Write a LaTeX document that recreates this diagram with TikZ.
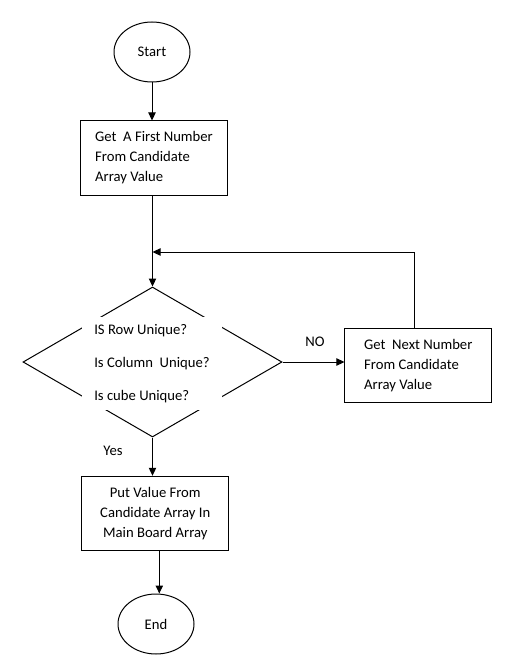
\documentclass[tikz,border=0pt]{standalone}
\usepackage{fontspec}
\setmainfont{Carlito}
\usetikzlibrary{shapes.geometric,arrows.meta,calc}
\begin{document}
\begin{tikzpicture}[x=0.75pt,y=-0.75pt,
  line width=0.75pt,
  every node/.style={font=\fontsize{11pt}{15pt}\selectfont},
  term/.style={draw, ellipse, minimum width=57pt, minimum height=45pt, inner sep=0pt},
  procbox/.style={draw, rectangle, minimum width=110pt, minimum height=55.5pt, inner sep=2pt},
  flow/.style={-{Triangle[length=6pt,width=5.5pt]}},
  lbl/.style={inner sep=1pt},
]
\fill[white] (0,0) rectangle (513,656);
\useasboundingbox (0,0) rectangle (513,656);
\node[term] (start) at (152,52) {Start};
\node[procbox, align=left] (box1) at (154,158) {Get\ \ A First Number\\From Candidate\\Array Value};
\node[draw, diamond, minimum width=194.25pt, minimum height=112.5pt, inner sep=0pt] (dec) at (152.5,362) {};
\node[fill=white, minimum width=105pt, minimum height=69.75pt, align=left, inner sep=0pt,
      font=\fontsize{11pt}{24.75pt}\selectfont] (dectext) at (152,363.5)
      {IS Row Unique?\\Is Column\ \ Unique?\\Is cube Unique?};
\node[procbox, align=left] (box2) at (418.3,365.3) {Get\ \ Next Number\\From Candidate\\Array Value};
\node[procbox, align=center] (box3) at (155.3,513.3) {Put Value From\\Candidate Array In\\Main Board Array};
\node[term] (end) at (156,624) {End};
\node[lbl] (no) at (315,342) {NO};
\node[lbl] (yes) at (113,451) {Yes};
\coordinate (join) at (152.5,252);
\draw[flow] (start.south) -- (start.south |- box1.north);
\draw[flow] (box1.south -| dec.north) -- (dec.north);
\draw[flow] (dec.east) -- (dec.east -| box2.west);
\draw[flow] ([xshift=-3pt]box2.north) |- (join);
\draw[flow] (dec.south) -- (dec.south |- box3.north);
\draw[flow] ([xshift=3pt]box3.south) -- ([xshift=3pt]box3.south |- end.north);
\end{tikzpicture}
\end{document}
